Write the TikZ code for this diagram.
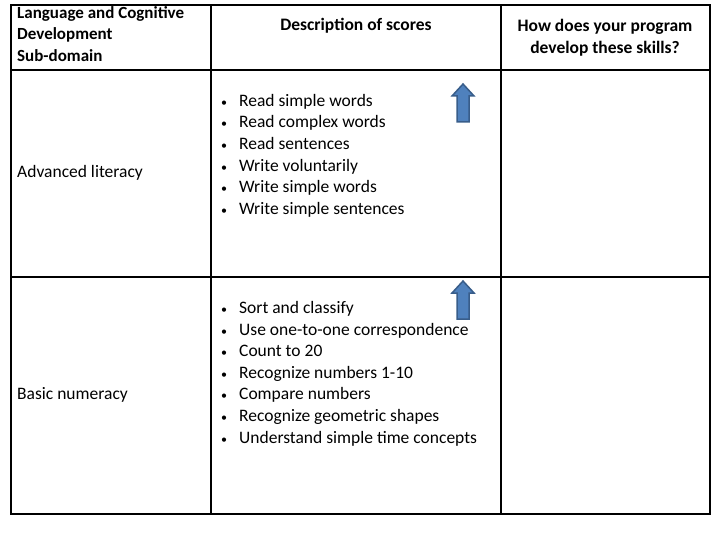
\documentclass[tikz,border=0pt]{standalone}
\usepackage{fontspec}
\setmainfont{Carlito}
\usetikzlibrary{positioning}
\tikzstyle{cell} = [anchor=west, align=left, inner sep=2pt, font=\fontsize{17.5}{21.6}\selectfont]
\tikzstyle{head} = [align=center, font=\bfseries\fontsize{17.5}{21.6}\selectfont]
\tikzstyle{grid} = [line width=1.5pt, black]
\tikzstyle{uparrow} = [fill={rgb,255:red,79;green,129;blue,189}, draw={rgb,255:red,56;green,93;blue,138}, line width=1.5pt, line join=miter]
\newcommand{\bulletlist}[1]{\begin{tabular}{@{}l@{\hspace{12pt}}l@{}}#1\end{tabular}}
\newcommand{\bul}{{\fontsize{12}{12}\selectfont\textbullet}}
\newcommand{\uparr}[2]{\draw [uparrow] (#1-6,#2+38) -- (#1-6,#2+12) -- (#1-11,#2+12) -- (#1,#2) -- (#1+11,#2+12) -- (#1+6,#2+12) -- (#1+6,#2+38) -- cycle;}

\begin{document}
\begin{tikzpicture}[x=1pt, y=-1pt]
  \useasboundingbox (0,0) rectangle (720,540);
  % table lines
  \draw [grid] (11,5) rectangle (710,514);
  \draw [grid] (211,5) -- (211,514);
  \draw [grid] (501,5) -- (501,514);
  \draw [grid] (11,70) -- (710,70);
  \draw [grid] (11,277) -- (710,277);

  % header
  \node (hsub) [cell, font=\bfseries\fontsize{17}{21.6}\selectfont, anchor=north west] at (15,4) {Language and Cognitive\\Development\\Sub-domain};
  \node (hdesc) [head] at (356,26) {Description of scores};
  \node (hprog) [head] at (605,38) {How does your program\\develop these skills?};

  % rows
  \node (lit) [cell] at (15,173) {Advanced literacy};
  \node (litlist) [cell] at (219,156) {\bulletlist{%
    \bul & Read simple words\\
    \bul & Read complex words\\
    \bul & Read sentences\\
    \bul & Write voluntarily\\
    \bul & Write simple words\\
    \bul & Write simple sentences}};
  \node (num) [cell] at (15,395) {Basic numeracy};
  \node (numlist) [cell] at (219,374) {\bulletlist{%
    \bul & Sort and classify\\
    \bul & Use one-to-one correspondence\\
    \bul & Count to 20\\
    \bul & Recognize numbers 1-10\\
    \bul & Compare numbers\\
    \bul & Recognize geometric shapes\\
    \bul & Understand simple time concepts}};

  % arrows
  \uparr{463}{84}
  \uparr{463}{281}
\end{tikzpicture}
\end{document}
